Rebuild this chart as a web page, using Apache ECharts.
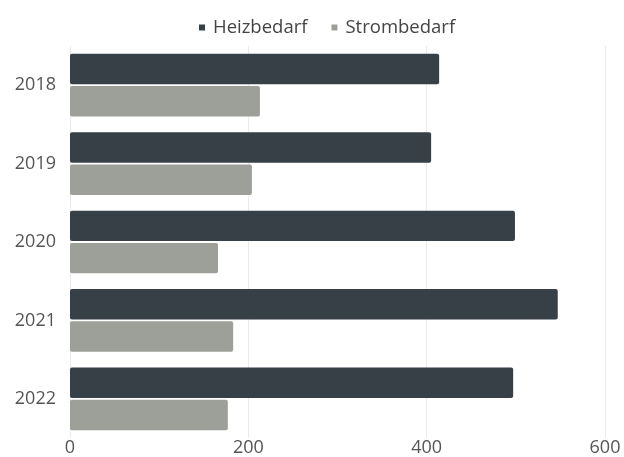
<!DOCTYPE html>
<html><head><meta charset="utf-8">
<script src="https://cdn.jsdelivr.net/npm/echarts@6/dist/echarts.min.js"></script>
<style>html,body{margin:0;padding:0;background:#fff}#c{width:624px;height:457px}</style>
</head><body><div id="c"></div>
<script>
const years = ['2018','2019','2020','2021','2022'];
const heizbedarf = [414, 405, 499, 547, 497];
const strombedarf = [213, 204, 166, 183, 177];
const xTicks = [0, 200, 400, 600];

const chart = echarts.init(document.getElementById('c'), null, {renderer:'canvas'});
const font = '"Open Sans", sans-serif';
chart.setOption({
  animation:false,
  textStyle:{fontFamily:font},
  legend:{
    top:13, left:194, itemWidth:6, itemHeight:6, itemGap:24,
    icon:'rect',
    textStyle:{fontSize:18.5, color:'#444', fontFamily:font, padding:[0,0,0,3]},
    data:['Heizbedarf','Strombedarf']
  },
  grid:{left:70, right:19, top:46, bottom:17, containLabel:false},
  xAxis:{
    type:'value', min:xTicks[0], max:xTicks[xTicks.length-1], interval:200,
    axisLine:{show:false}, axisTick:{show:false},
    axisLabel:{fontSize:18, color:'#555', margin:1, fontFamily:font},
    splitLine:{lineStyle:{color:'#ebebeb', width:1}}
  },
  yAxis:{
    type:'category', data:years, inverse:true,
    axisLine:{show:false}, axisTick:{show:false},
    axisLabel:{fontSize:18, color:'#555', margin:14, fontFamily:font}
  },
  series:[
    {name:'Heizbedarf', type:'bar', data:heizbedarf, barCategoryGap:'20%', barGap:'6%',
     itemStyle:{color:'#373f47', borderRadius:2}},
    {name:'Strombedarf', type:'bar', data:strombedarf, barCategoryGap:'20%', barGap:'6%',
     itemStyle:{color:'#9ca099', borderRadius:2}}
  ]
});
</script></body></html>
